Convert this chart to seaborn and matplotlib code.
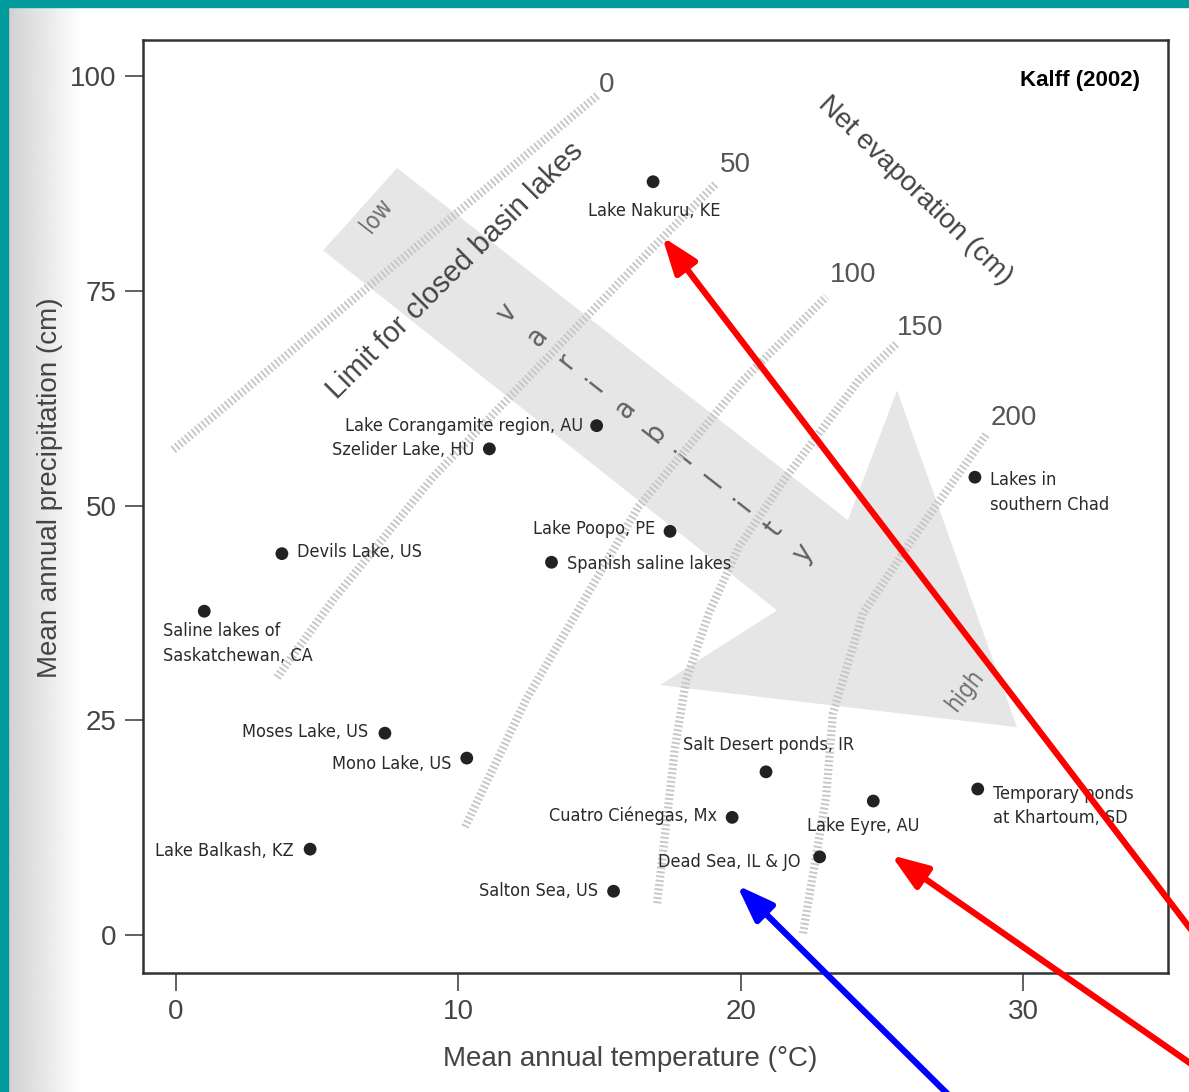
import numpy as np
import pandas as pd
import matplotlib.pyplot as plt
import seaborn as sns
from matplotlib import font_manager
from matplotlib.patches import Polygon, Rectangle

# ==========================================
# DATA
# ==========================================
lake_names = [
    "Lake Nakuru, KE", "Lake Corangamite region, AU", "Szelider Lake, HU",
    "Lake Poopo, PE", "Spanish saline lakes", "Devils Lake, US",
    "Saline lakes of\nSaskatchewan, CA", "Moses Lake, US", "Mono Lake, US",
    "Lake Balkash, KZ", "Salton Sea, US", "Cuatro Ciénegas, Mx",
    "Dead Sea, IL & JO", "Salt Desert ponds, IR", "Lake Eyre, AU",
    "Temporary ponds\nat Khartoum, SD", "Lakes in\nsouthern Chad",
]
temperature = [16.9, 14.9, 11.1, 17.5, 13.3, 3.75, 1.0, 7.4, 10.3,
               4.75, 15.5, 19.7, 22.8, 20.9, 24.7, 28.4, 28.3]
precipitation = [87.7, 59.3, 56.6, 47.0, 43.4, 44.4, 37.7, 23.5, 20.6,
                 10.0, 5.1, 13.7, 9.1, 19.0, 15.6, 17.0, 53.3]

# net evaporation isolines (cm)
evap_levels = ["0", "50", "100", "150", "200"]
evap_0_temp = [-0.1, 14.95]
evap_0_precip = [56.5, 97.8]
evap_50_temp = [3.58, 5.56, 9.10, 16.79, 19.13]
evap_50_precip = [30.0, 39.0, 53.3, 79.7, 87.5]
evap_100_temp = [10.24, 12.40, 16.37, 20.09, 23.03]
evap_100_precip = [12.6, 27.4, 49.8, 64.6, 74.3]
evap_150_temp = [17.04, 17.68, 18.07, 18.88, 19.94, 21.54, 24.19, 25.54]
evap_150_precip = [3.7, 21.9, 29.7, 37.5, 45.2, 53.0, 64.6, 68.9]
evap_200_temp = [22.21, 23.03, 23.27, 24.34, 26.07, 28.73]
evap_200_precip = [0.2, 16.1, 25.8, 37.5, 46.0, 58.4]
evap_label_temp = [15.27, 19.8, 23.98, 26.36, 29.69]
evap_label_precip = [98.95, 89.6, 76.8, 70.7, 60.2]

# grey "variability" arrow outline
variability_temp = [7.83, 23.80, 25.54, 29.79, 17.14, 21.29, 5.21]
variability_precip = [89.3, 48.3, 63.4, 24.2, 29.1, 37.8, 79.7]

# highlighted lakes (red / blue pointers)
pointer_temp = [17.22, 25.33, 19.87]
pointer_precip = [81.3, 9.3, 5.8]
pointer_tail = [(1.026, 0.114), (1.045, -0.007), (0.811, -0.017)]
pointer_color = ["#ff0000", "#ff0000", "#0000ff"]

# label placement: (dx pt, dy pt, ha, va)
label_place = [
    (1, -21, "center", "center"), (-10, 0, "right", "center"),
    (-11, -1, "right", "center"), (-11, 1.5, "right", "center"),
    (11, -1, "left", "center"), (11, 1, "left", "center"),
    (-29.5, -8, "left", "top"), (-12, 1, "right", "center"),
    (-11, -4, "right", "center"), (-12, -1, "right", "center"),
    (-11, 0, "right", "center"), (-11, 1.5, "right", "center"),
    (-14, -3.6, "right", "center"), (1.5, 19, "center", "center"),
    (-7, -18, "center", "center"), (11, -12, "left", "center"),
    (11, -11, "left", "center"),
]

df = pd.DataFrame({"lake": lake_names, "temp": temperature, "precip": precipitation})

# ==========================================
# FIGURE
# ==========================================
sns.set_theme(style="white")
plt.rcParams["font.family"] = ["Liberation Sans", "DejaVu Sans"]

# condensed face for the lake labels (whatever is installed)
installed = {f.name for f in font_manager.fontManager.ttflist}
if "Liberation Sans Narrow" in installed:
    narrow = dict(family=["Liberation Sans Narrow", "DejaVu Sans"], fontstretch="normal")
    label_size = 15
else:
    narrow = dict(family=["DejaVu Sans", "Liberation Sans"], fontstretch="condensed")
    label_size = 13

fig = plt.figure(figsize=(11.89, 10.92), dpi=100)
fig.patch.set_facecolor("white")

# scanned-page look: grey shade on the left, teal frame
shade = fig.add_axes([8 / 1189, 0, 75 / 1189, 1 - 7 / 1092], zorder=0)
shade.imshow(np.linspace(0.82, 1.0, 100).reshape(1, -1), aspect="auto",
             cmap="gray", vmin=0, vmax=1, extent=[0, 1, 0, 1])
shade.axis("off")
fig.patches.append(Rectangle((0, 1 - 7 / 1092), 1, 7 / 1092, transform=fig.transFigure,
                             color="#009a9a", zorder=5))
fig.patches.append(Rectangle((0, 0), 8 / 1189, 1, transform=fig.transFigure,
                             color="#009a9a", zorder=5))

ax = fig.add_axes([143 / 1189, 1 - 973 / 1092, 1025 / 1189, 933 / 1092], zorder=1)
ax.set_facecolor("white")

# big grey arrow
ax.add_patch(Polygon(np.column_stack([variability_temp, variability_precip]),
                     closed=True, facecolor="#e6e6e6", edgecolor="none", zorder=1))
ax.text(7.12, 83.8, "low", rotation=52, ha="center", va="center",
        fontsize=17, color="#707070", zorder=2, **narrow)
ax.text(27.95, 28.5, "high", rotation=52, ha="center", va="center",
        fontsize=17, color="#707070", zorder=2, **narrow)
for ch, lx, ly in zip("variability", np.linspace(11.73, 22.21, 11), np.linspace(72.4, 44.5, 11)):
    ax.text(lx, ly, ch, rotation=52, ha="center", va="center",
            fontsize=21, color="#606060", zorder=2, **narrow)

# hatched isolines of net evaporation
iso_temp = [evap_0_temp, evap_50_temp, evap_100_temp, evap_150_temp, evap_200_temp]
iso_precip = [evap_0_precip, evap_50_precip, evap_100_precip, evap_150_precip, evap_200_precip]
for tx, py in zip(iso_temp, iso_precip):
    sns.lineplot(x=tx, y=py, sort=False, estimator=None, ax=ax, color="#c6c6c6",
                 linewidth=6, linestyle=(0, (0.22, 0.3)), zorder=3)
for lab, lx, ly in zip(evap_levels, evap_label_temp, evap_label_precip):
    ax.text(lx, ly, lab, ha="center", va="center", fontsize=20, color="#555555")

ax.text(9.88, 77.4, "Limit for closed basin lakes", rotation=45, rotation_mode="anchor",
        ha="center", va="center", fontsize=21, color="#444444", zorder=4)
ax.text(26.18, 86.7, "Net evaporation (cm)", rotation=-44, rotation_mode="anchor",
        ha="center", va="center", fontsize=20, color="#444444", zorder=4)

# lakes
sns.scatterplot(data=df, x="temp", y="precip", ax=ax, s=85, color="#222222",
                edgecolor="none", zorder=5)
for name, tx, py, (dx, dy, ha, va) in zip(lake_names, temperature, precipitation, label_place):
    ax.annotate(name, (tx, py), xytext=(dx, dy), textcoords="offset points",
                ha=ha, va=va, fontsize=label_size, color="#2a2a2a",
                linespacing=1.45, zorder=6, **narrow)

ax.text(0.973, 0.957, "Kalff (2002)", transform=ax.transAxes, ha="right", va="center",
        fontsize=16, fontweight="bold", color="black", zorder=6)

# axes styling
ax.set_xlim(-1.17, 35.14)
ax.set_ylim(-4.42, 104.2)
ax.set_xticks([0, 10, 20, 30])
ax.set_yticks([0, 25, 50, 75, 100])
ax.tick_params(direction="out", length=13, width=1.3, color="#555555",
               labelsize=20, labelcolor="#444444", pad=6, bottom=True, left=True)
for sp in ax.spines.values():
    sp.set_color("#333333")
    sp.set_linewidth(1.8)
ax.set_xlabel("Mean annual temperature (°C)", fontsize=20, color="#444444")
ax.set_ylabel("Mean annual precipitation (cm)", fontsize=20, color="#444444")
ax.xaxis.set_label_coords(0.475, -0.078)
ax.yaxis.set_label_coords(-0.078, 0.52)

# pointers added on top of the scan
for hx, hy, tail, col in zip(pointer_temp, pointer_precip, pointer_tail, pointer_color):
    ax.annotate("", xy=(hx, hy), xytext=tail, textcoords="figure fraction",
                annotation_clip=False, zorder=10,
                arrowprops=dict(arrowstyle="-|>,head_length=1.1,head_width=0.4",
                                mutation_scale=20, lw=4.5, color=col,
                                shrinkA=0, shrinkB=0))

plt.savefig("out.png", dpi=100)
plt.close()
